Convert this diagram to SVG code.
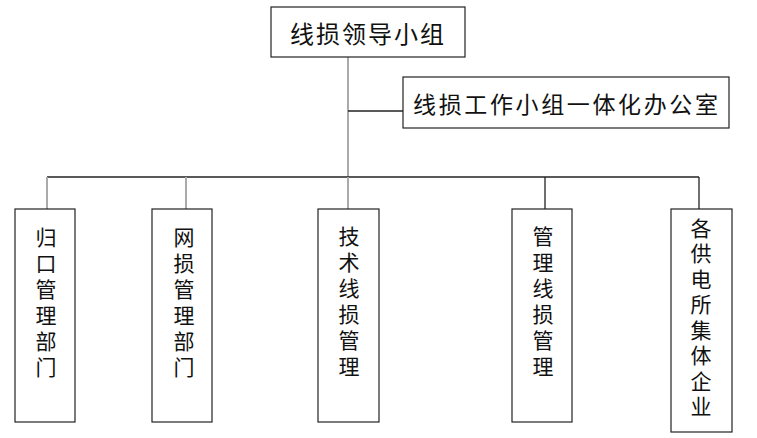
<svg xmlns="http://www.w3.org/2000/svg" width="757" height="438" viewBox="0 0 757 438">
<style>
.box{fill:#fff;stroke:#222;stroke-width:1.2}
.t{font-family:"Noto Sans CJK SC","Noto Sans CJK TC",sans-serif;fill:#111;text-anchor:middle;dominant-baseline:central}
.h{font-size:24px}
.v{font-family:"Noto Sans CJK SC","Noto Sans CJK TC",sans-serif;fill:#111;font-size:21px;writing-mode:vertical-rl;text-anchor:start;dominant-baseline:central;letter-spacing:5px}
.dk{stroke:#222;stroke-width:1.3;fill:none}
.lt{stroke:#aaa;stroke-width:2;fill:none}
</style>
<g id="connectors">
<line class="lt" x1="348" y1="57" x2="348" y2="177"/>
<line class="dk" x1="348" y1="111" x2="403" y2="111"/>
<line class="dk" x1="47" y1="177" x2="699" y2="177"/>
<line class="lt" x1="47" y1="177" x2="47" y2="209"/>
<line class="lt" x1="186" y1="177" x2="186" y2="209"/>
<line class="lt" x1="348" y1="177" x2="348" y2="209"/>
<line class="dk" x1="545" y1="177" x2="545" y2="209"/>
<line class="dk" x1="699" y1="177" x2="699" y2="209"/>
</g>
<g id="leader">
<rect class="box" x="271" y="7" width="194" height="50"/>
<text class="t h" x="368" y="32" letter-spacing="2">线损领导小组</text>
</g>
<g id="office">
<rect class="box" x="403" y="77" width="326" height="51"/>
<text class="t" x="568" y="103" font-size="23" letter-spacing="5" textLength="310">线损工作小组一体化办公室</text>
</g>
<g id="n1">
<rect class="box" x="15" y="209" width="60" height="213"/>
<text class="v" x="46" y="226.5">归口管理部门</text>
</g>
<g id="n2">
<rect class="box" x="152" y="209" width="60" height="213"/>
<text class="v" x="184" y="226.5">网损管理部门</text>
</g>
<g id="n3">
<rect class="box" x="318" y="209" width="61" height="213"/>
<text class="v" x="349" y="225.5">技术线损管理</text>
</g>
<g id="n4">
<rect class="box" x="512" y="209" width="60" height="213"/>
<text class="v" x="543" y="225.5">管理线损管理</text>
</g>
<g id="n5">
<rect class="box" x="671" y="209" width="61" height="223"/>
<text class="v" x="701" y="217.5" style="letter-spacing:4.5px">各供电所集体企业</text>
</g>
</svg>
